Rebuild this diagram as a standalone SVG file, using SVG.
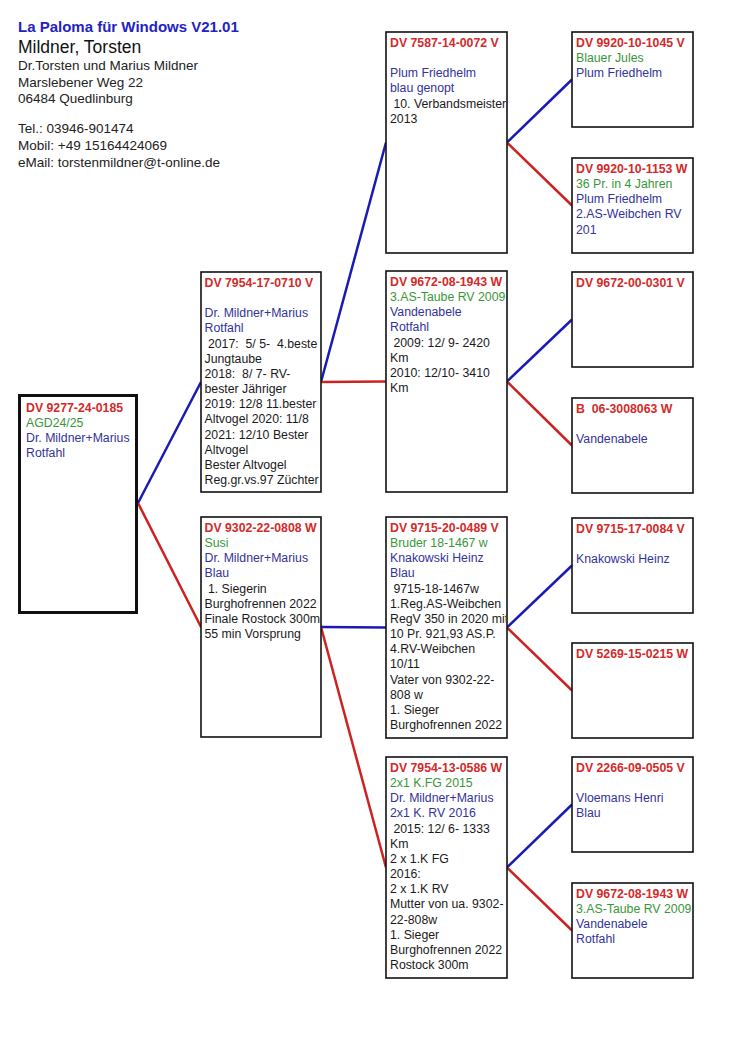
<svg xmlns="http://www.w3.org/2000/svg" width="750" height="1061" viewBox="0 0 750 1061">
<style>
text{font-family:"Liberation Sans",Arial,sans-serif;font-size:12.3px;white-space:pre}
.r{fill:#d42a2a;font-weight:bold}
.g{fill:#3a963a}
.b{fill:#33339a}
.k{fill:#1a1a1a}
.box{fill:#fff;stroke:#111;stroke-width:1.6}
.box0{fill:#fff;stroke:#111;stroke-width:3}
.lb{stroke:#1a1ab4;stroke-width:2.5;fill:none}
.lr{stroke:#cc2222;stroke-width:2.5;fill:none}
.h1{font-size:15px;font-weight:bold;fill:#2323c4}
.h2{font-size:17.5px;fill:#111}
.h3{font-size:13.5px;fill:#222}
</style>
<rect width="750" height="1061" fill="#fff"/>
<g id="header">
<text class="h1" x="18" y="32">La Paloma für Windows V21.01</text>
<text class="h2" x="18" y="53">Mildner, Torsten</text>
<text class="h3" x="18" y="70">Dr.Torsten und Marius Mildner</text>
<text class="h3" x="18" y="87">Marslebener Weg 22</text>
<text class="h3" x="18" y="103">06484 Quedlinburg</text>
<text class="h3" x="18" y="133">Tel.: 03946-901474</text>
<text class="h3" x="18" y="150">Mobil: +49 15164424069</text>
<text class="h3" x="18" y="167">eMail: torstenmildner@t-online.de</text>
</g>
<g id="connectors">
<path class="lb" d="M138,503 L201,382"/>
<path class="lr" d="M138,503 L201,627"/>
<path class="lb" d="M321,382 L386,142.5"/>
<path class="lr" d="M321,382 L386,381.5"/>
<path class="lb" d="M321,627 L386,627.5"/>
<path class="lr" d="M321,627 L386,867.5"/>
<path class="lb" d="M507,142.5 L572,79.5"/>
<path class="lr" d="M507,142.5 L572,205.5"/>
<path class="lb" d="M507,381.5 L572,319.5"/>
<path class="lr" d="M507,381.5 L572,445.5"/>
<path class="lb" d="M507,627.5 L572,565.5"/>
<path class="lr" d="M507,627.5 L572,690.5"/>
<path class="lb" d="M507,867.5 L572,804.5"/>
<path class="lr" d="M507,867.5 L572,930.5"/>
</g>
<g id="root">
<rect class="box0" x="19.5" y="395.5" width="117" height="217"/>
<svg x="21" y="397" width="114" height="214"><text x="5" y="15"><tspan class="r">DV 9277-24-0185</tspan><tspan class="g" x="5" dy="15.15">AGD24/25</tspan><tspan class="b" x="5" dy="15.15">Dr. Mildner+Marius</tspan><tspan class="b" x="5" dy="15.15">Rotfahl</tspan></text></svg>
</g>
<g id="sire">
<rect class="box" x="201" y="272" width="120" height="220"/>
<svg x="201" y="272" width="119" height="219"><text x="3.5" y="15"><tspan class="r">DV 7954-17-0710 V</tspan><tspan class="b" x="3.5" dy="30.3">Dr. Mildner+Marius</tspan><tspan class="b" x="3.5" dy="15.15">Rotfahl</tspan><tspan class="k" x="3.5" dy="15.15"> 2017:  5/ 5-  4.beste</tspan><tspan class="k" x="3.5" dy="15.15">Jungtaube</tspan><tspan class="k" x="3.5" dy="15.15">2018:  8/ 7- RV-</tspan><tspan class="k" x="3.5" dy="15.15">bester Jähriger</tspan><tspan class="k" x="3.5" dy="15.15">2019: 12/8 11.bester</tspan><tspan class="k" x="3.5" dy="15.15">Altvogel 2020: 11/8</tspan><tspan class="k" x="3.5" dy="15.15">2021: 12/10 Bester</tspan><tspan class="k" x="3.5" dy="15.15">Altvogel</tspan><tspan class="k" x="3.5" dy="15.15">Bester Altvogel</tspan><tspan class="k" x="3.5" dy="15.15">Reg.gr.vs.97 Züchter</tspan></text></svg>
</g>
<g id="dam">
<rect class="box" x="201" y="517" width="120" height="220"/>
<svg x="201" y="517" width="119" height="219"><text x="3.5" y="15"><tspan class="r">DV 9302-22-0808 W</tspan><tspan class="g" x="3.5" dy="15.15">Susi</tspan><tspan class="b" x="3.5" dy="15.15">Dr. Mildner+Marius</tspan><tspan class="b" x="3.5" dy="15.15">Blau</tspan><tspan class="k" x="3.5" dy="15.15"> 1. Siegerin</tspan><tspan class="k" x="3.5" dy="15.15">Burghofrennen 2022</tspan><tspan class="k" x="3.5" dy="15.15">Finale Rostock 300m</tspan><tspan class="k" x="3.5" dy="15.15">55 min Vorsprung</tspan></text></svg>
</g>
<g id="ss">
<rect class="box" x="386" y="32" width="121" height="221"/>
<svg x="386" y="32" width="120" height="220"><text x="4" y="15"><tspan class="r">DV 7587-14-0072 V</tspan><tspan class="b" x="4" dy="30.3">Plum Friedhelm</tspan><tspan class="b" x="4" dy="15.15">blau genopt</tspan><tspan class="k" x="4" dy="15.15"> 10. Verbandsmeister</tspan><tspan class="k" x="4" dy="15.15">2013</tspan></text></svg>
</g>
<g id="sd">
<rect class="box" x="386" y="271" width="121" height="221"/>
<svg x="386" y="271" width="120" height="220"><text x="4" y="15"><tspan class="r">DV 9672-08-1943 W</tspan><tspan class="g" x="4" dy="15.15">3.AS-Taube RV 2009</tspan><tspan class="b" x="4" dy="15.15">Vandenabele</tspan><tspan class="b" x="4" dy="15.15">Rotfahl</tspan><tspan class="k" x="4" dy="15.15"> 2009: 12/ 9- 2420</tspan><tspan class="k" x="4" dy="15.15">Km</tspan><tspan class="k" x="4" dy="15.15">2010: 12/10- 3410</tspan><tspan class="k" x="4" dy="15.15">Km</tspan></text></svg>
</g>
<g id="ds">
<rect class="box" x="386" y="517" width="121" height="221"/>
<svg x="386" y="517" width="120" height="220"><text x="4" y="15"><tspan class="r">DV 9715-20-0489 V</tspan><tspan class="g" x="4" dy="15.15">Bruder 18-1467 w</tspan><tspan class="b" x="4" dy="15.15">Knakowski Heinz</tspan><tspan class="b" x="4" dy="15.15">Blau</tspan><tspan class="k" x="4" dy="15.15"> 9715-18-1467w</tspan><tspan class="k" x="4" dy="15.15">1.Reg.AS-Weibchen</tspan><tspan class="k" x="4" dy="15.15">RegV 350 in 2020 mit</tspan><tspan class="k" x="4" dy="15.15">10 Pr. 921,93 AS.P.</tspan><tspan class="k" x="4" dy="15.15">4.RV-Weibchen</tspan><tspan class="k" x="4" dy="15.15">10/11</tspan><tspan class="k" x="4" dy="15.15">Vater von 9302-22-</tspan><tspan class="k" x="4" dy="15.15">808 w</tspan><tspan class="k" x="4" dy="15.15">1. Sieger</tspan><tspan class="k" x="4" dy="15.15">Burghofrennen 2022</tspan></text></svg>
</g>
<g id="dd">
<rect class="box" x="386" y="757" width="121" height="221"/>
<svg x="386" y="757" width="120" height="220"><text x="4" y="15"><tspan class="r">DV 7954-13-0586 W</tspan><tspan class="g" x="4" dy="15.15">2x1 K.FG 2015</tspan><tspan class="b" x="4" dy="15.15">Dr. Mildner+Marius</tspan><tspan class="b" x="4" dy="15.15">2x1 K. RV 2016</tspan><tspan class="k" x="4" dy="15.15"> 2015: 12/ 6- 1333</tspan><tspan class="k" x="4" dy="15.15">Km</tspan><tspan class="k" x="4" dy="15.15">2 x 1.K FG</tspan><tspan class="k" x="4" dy="15.15">2016:</tspan><tspan class="k" x="4" dy="15.15">2 x 1.K RV</tspan><tspan class="k" x="4" dy="15.15">Mutter von ua. 9302-</tspan><tspan class="k" x="4" dy="15.15">22-808w</tspan><tspan class="k" x="4" dy="15.15">1. Sieger</tspan><tspan class="k" x="4" dy="15.15">Burghofrennen 2022</tspan><tspan class="k" x="4" dy="15.15">Rostock 300m</tspan></text></svg>
</g>
<g id="sss">
<rect class="box" x="572" y="32" width="121" height="95"/>
<svg x="572" y="32" width="120" height="94"><text x="4" y="15"><tspan class="r">DV 9920-10-1045 V</tspan><tspan class="g" x="4" dy="15.15">Blauer Jules</tspan><tspan class="b" x="4" dy="15.15">Plum Friedhelm</tspan></text></svg>
</g>
<g id="ssd">
<rect class="box" x="572" y="158" width="121" height="95"/>
<svg x="572" y="158" width="120" height="94"><text x="4" y="15"><tspan class="r">DV 9920-10-1153 W</tspan><tspan class="g" x="4" dy="15.15">36 Pr. in 4 Jahren</tspan><tspan class="b" x="4" dy="15.15">Plum Friedhelm</tspan><tspan class="b" x="4" dy="15.15">2.AS-Weibchen RV</tspan><tspan class="b" x="4" dy="15.15">201</tspan></text></svg>
</g>
<g id="sds">
<rect class="box" x="572" y="272" width="121" height="95"/>
<svg x="572" y="272" width="120" height="94"><text x="4" y="15"><tspan class="r">DV 9672-00-0301 V</tspan></text></svg>
</g>
<g id="sdd">
<rect class="box" x="572" y="398" width="121" height="95"/>
<svg x="572" y="398" width="120" height="94"><text x="4" y="15"><tspan class="r">B  06-3008063 W</tspan><tspan class="b" x="4" dy="30.3">Vandenabele</tspan></text></svg>
</g>
<g id="dss">
<rect class="box" x="572" y="518" width="121" height="95"/>
<svg x="572" y="518" width="120" height="94"><text x="4" y="15"><tspan class="r">DV 9715-17-0084 V</tspan><tspan class="b" x="4" dy="30.3">Knakowski Heinz</tspan></text></svg>
</g>
<g id="dsd">
<rect class="box" x="572" y="643" width="121" height="95"/>
<svg x="572" y="643" width="120" height="94"><text x="4" y="15"><tspan class="r">DV 5269-15-0215 W</tspan></text></svg>
</g>
<g id="dds">
<rect class="box" x="572" y="757" width="121" height="95"/>
<svg x="572" y="757" width="120" height="94"><text x="4" y="15"><tspan class="r">DV 2266-09-0505 V</tspan><tspan class="b" x="4" dy="30.3">Vloemans Henri</tspan><tspan class="b" x="4" dy="15.15">Blau</tspan></text></svg>
</g>
<g id="ddd">
<rect class="box" x="572" y="883" width="121" height="95"/>
<svg x="572" y="883" width="120" height="94"><text x="4" y="15"><tspan class="r">DV 9672-08-1943 W</tspan><tspan class="g" x="4" dy="15.15">3.AS-Taube RV 2009</tspan><tspan class="b" x="4" dy="15.15">Vandenabele</tspan><tspan class="b" x="4" dy="15.15">Rotfahl</tspan></text></svg>
</g>
</svg>
